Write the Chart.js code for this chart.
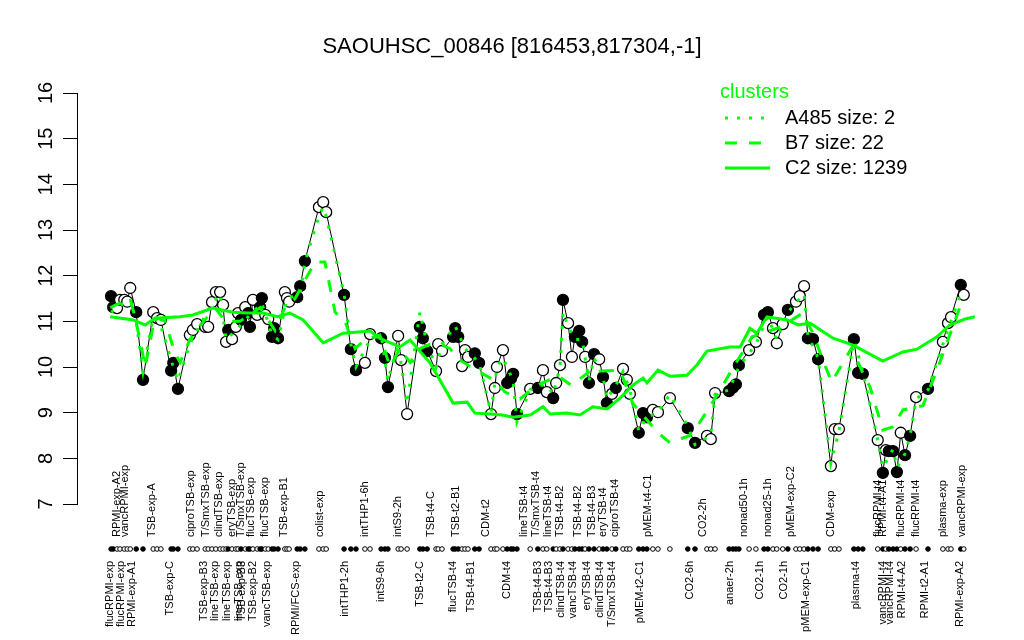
<!DOCTYPE html>
<html><head><meta charset="utf-8">
<script src="https://cdn.jsdelivr.net/npm/chart.js@4/dist/chart.umd.min.js"></script>
<style>html,body{margin:0;padding:0;background:#fff}canvas{display:block}</style>
</head><body>
<canvas id="c" width="1024" height="640"></canvas>
<script>
const titleText = "SAOUHSC_00846 [816453,817304,-1]";
const yTicks = [7, 8, 9, 10, 11, 12, 13, 14, 15, 16];

// sample positions (index units, with gaps between condition groups)
const pointPos = [0.0,0.5,1.4,2.1,3.1,3.8,4.5,5.9,7.5,9.9,10.8,11.7,14.1,14.6,15.7,18.5,19.2,20.2,22.1,22.8,
23.7,24.6,25.6,26.3,27.0,27.5,28.4,29.3,29.8,30.5,31.5,32.2,32.6,33.3,34.3,35.0,35.4,36.2,36.9,37.8,
38.3,39.2,40.8,41.3,41.8,43.7,44.4,45.5,48.8,49.8,50.5,54.7,56.3,57.5,59.6,60.8,63.4,64.3,65.0,67.4,
68.1,69.5,72.5,73.2,74.2,76.3,76.8,77.7,80.3,80.8,81.5,82.4,83.1,83.8,85.4,86.4,89.2,90.1,90.6,92.0,
93.0,93.9,94.4,95.3,98.4,100.2,101.4,102.3,103.8,104.5,105.4,106.1,107.3,108.2,108.9,109.9,110.6,111.3,112.2,113.4,
114.6,115.5,116.4,117.6,118.5,120.2,121.1,121.8,123.9,124.9,125.8,127.2,128.4,131.2,135.4,137.1,139.9,140.8,141.8,145.1,
146.0,146.7,147.4,149.8,151.4,153.3,154.2,155.4,156.3,157.7,158.9,160.8,161.7,162.7,163.6,164.8,166.0,169.0,169.9,170.9,
174.4,175.4,176.5,180.0,181.2,181.9,182.6,183.6,184.5,185.4,186.4,187.6,189.0,191.8,195.3,196.5,197.2,199.5,200.2];
const pointVal = [11.55,11.31,11.29,11.47,11.47,11.43,11.73,11.20,9.72,11.20,11.07,11.03,9.92,10.09,9.52,10.70,10.81,10.94,10.88,10.88,
11.42,11.64,11.64,11.36,10.55,10.81,10.61,10.88,11.18,11.03,11.31,11.18,10.88,11.47,11.14,11.31,11.51,11.14,11.05,10.66,
10.85,10.63,11.64,11.51,11.43,11.53,11.77,12.32,13.50,13.61,13.39,11.58,10.39,9.93,10.09,10.72,10.63,10.20,9.56,10.68,
10.15,8.97,10.88,10.63,10.35,9.91,10.50,10.35,10.66,10.85,10.66,10.02,10.37,10.22,10.30,10.09,8.97,9.54,10.00,10.37,
9.65,9.75,9.85,8.97,9.52,9.54,9.93,9.45,9.32,9.65,10.04,11.47,10.96,10.22,10.66,10.79,10.55,10.22,9.65,10.28,
10.17,9.78,9.21,9.41,9.54,9.96,9.72,9.41,8.56,8.99,8.90,9.06,9.01,9.32,8.66,8.34,8.49,8.42,9.43,9.47,
9.55,9.62,10.04,10.37,10.55,11.14,11.20,10.85,10.52,10.94,11.25,11.43,11.55,11.77,10.63,10.61,10.17,7.83,8.64,8.64,
10.61,9.87,9.85,8.40,7.68,8.18,8.16,8.16,7.70,8.56,8.07,8.49,9.34,9.52,10.55,10.96,11.09,11.80,11.58];
const pointFilled = [1,1,0,0,0,0,0,1,1,0,0,0,1,1,1,0,0,0,0,0,
0,0,0,0,0,1,0,0,0,1,0,1,1,0,0,1,1,0,0,1,
1,1,0,0,0,1,1,1,0,0,0,1,1,1,0,0,1,1,1,0,
0,0,1,1,1,0,0,0,1,1,1,0,0,0,1,1,0,0,0,0,
1,1,1,1,0,1,0,0,1,0,0,1,0,0,1,1,1,0,1,1,
0,1,1,0,1,0,0,0,1,1,1,0,0,0,1,1,0,0,0,1,
1,1,1,0,0,1,1,0,0,0,1,0,0,0,1,1,1,0,0,0,
1,1,1,0,1,0,1,1,1,0,1,1,0,1,0,0,0,1,0];

// cluster profiles
const c2Pos = [-0.2,5.2,8.0,10.3,16.2,19.2,23.9,28.6,31.9,35.7,39.0,42.0,45.1,49.8,54.5,60.8,63.0,67.8,70.2,74.9,
80.3,83.6,85.4,89.0,91.8,94.4,98.4,101.4,103.1,107.0,110.1,113.1,116.4,119.5,122.5,124.9,125.8,128.4,131.2,135.2,
137.6,139.9,145.3,147.7,150.0,151.6,154.0,158.7,161.3,164.1,169.5,174.2,181.2,185.9,189.2,193.9,196.9,200.5,202.8];
const c2Val = [11.10,11.03,10.92,11.07,11.10,11.14,11.29,11.20,11.18,11.18,11.10,11.18,11.03,10.53,10.74,10.79,10.63,10.44,10.59,10.09,
9.21,9.23,8.99,8.97,8.95,8.90,8.95,9.13,8.97,8.99,8.95,9.13,9.08,9.32,9.60,9.76,9.65,9.93,9.80,9.82,
10.05,10.35,10.44,10.44,10.85,10.74,11.10,11.03,10.92,10.96,10.63,10.48,10.13,10.33,10.39,10.66,10.92,11.05,11.10];
const b7Pos = [-0.2,4.5,6.8,8.0,10.3,12.7,15.0,16.2,18.5,20.9,24.4,26.8,30.3,35.0,38.5,40.8,43.2,45.5,47.9,50.2,
52.6,54.9,57.3,59.6,63.1,65.5,67.8,70.2,72.5,74.9,77.2,79.6,81.9,85.4,90.1,92.5,96.0,100.0,105.0,108.0,
112.4,119.5,122.5,128.4,131.2,135.9,137.6,140.6,143.0,146.0,150.5,157.0,162.4,164.8,167.1,169.2,171.8,173.9,176.5,178.2,
181.2,183.6,185.9,190.6,193.9,199.3,200.5];
const b7Val = [11.30,11.50,10.60,10.00,11.10,11.00,10.30,10.10,10.60,10.90,11.30,11.00,11.00,11.30,10.80,11.30,11.50,11.90,12.30,12.30,
11.20,11.00,10.40,10.60,10.70,10.00,10.40,10.10,10.40,10.50,10.50,10.40,10.15,9.95,9.70,9.45,9.30,9.60,9.80,9.60,
9.90,9.93,9.20,8.56,8.34,8.50,8.70,9.13,9.50,9.98,10.66,10.87,11.18,10.74,10.15,9.67,10.09,10.42,9.87,9.56,
8.62,8.69,9.06,9.15,9.93,11.31,11.40];
const a485Pos = [0.0,4.5,5.9,7.5,9.9,11.7,14.6,15.7,18.5,20.2,23.7,25.6,27.0,29.3,32.2,35.4,37.8,39.2,41.3,44.4,
45.5,48.8,49.8,50.5,54.7,56.3,57.5,60.8,63.4,65.0,67.4,69.5,72.5,74.2,76.3,77.7,80.8,83.1,86.4,89.2,
90.6,92.0,94.4,95.3,98.4,100.2,102.3,103.8,105.4,106.1,107.3,108.9,110.6,112.2,113.4,115.5,116.4,118.5,120.2,121.8,
123.9,125.8,128.4,131.2,135.4,137.1,140.8,141.8,145.1,147.4,151.4,154.2,156.3,158.9,162.7,163.6,166.0,169.0,170.9,174.4,
176.5,180.0,181.2,183.6,184.5,186.4,187.6,189.0,191.8,195.3,197.2,199.5,200.2];
const a485Val = [11.20,11.50,11.00,9.90,11.10,10.90,10.00,9.70,10.50,10.80,11.40,11.60,10.60,10.80,11.10,11.40,10.70,10.60,11.50,11.60,
12.30,13.30,13.50,13.30,11.60,10.50,10.00,10.60,10.70,9.70,10.50,9.20,11.20,10.50,10.00,10.50,10.90,10.40,10.10,9.00,
10.00,10.20,9.70,8.80,9.50,9.60,9.60,9.40,10.00,11.20,10.90,10.60,10.60,9.70,10.20,9.80,9.30,9.60,9.90,9.50,
8.60,8.90,9.00,9.40,8.70,8.30,8.50,9.40,9.50,10.00,10.50,11.10,10.60,11.20,11.60,10.70,10.20,7.90,8.60,10.60,
9.90,8.40,7.80,8.20,7.80,8.10,8.50,9.30,9.50,10.50,11.00,11.60,11.50];

// sample labels (top row and bottom row)
const topLabels = ["RPMI-exp-A2","vancRPMI-exp","TSB-exp-A","ciproTSB-exp","T/SmxTSB-exp","clindTSB-exp","eryTSB-exp","T/SmxTSB-exp","flucTSB-exp","flucTSB-exp",
"TSB-exp-B1","colist-exp","intTHP1-6h","intS9-2h","TSB-t4-C","TSB-t2-B1","CDM-t2","lineTSB-t4","T/SmxTSB-t4","lineTSB-t4",
"TSB-t4-B2","TSB-t4-B2","TSB-t4-B3","eryTSB-t4","ciproTSB-t4","pMEM-t4-C1","CO2-2h","nonad50-1h","nonad25-1h","pMEM-exp-C2",
"CDM-exp","flucRPMI-t4","RPMI-t4-A1","flucRPMI-t4","flucRPMI-t4","plasma-exp","vancRPMI-exp"];
const topLabelPos = [1.3,3.3,9.6,18.8,22.3,25.3,28.3,30.5,32.9,36.2,
40.6,49.1,59.6,67.4,75.0,81.0,88.0,97.0,99.8,102.6,
105.4,109.6,112.8,115.5,118.3,126.0,139.0,148.6,154.2,159.6,
169.0,180.0,181.2,185.4,189.0,195.3,199.8];
const bottomLabels = ["flucRPMI-exp","flucRPMI-exp","RPMI-exp-A1","TSB-exp-C","TSB-exp-B3","lineTSB-exp","lineTSB-exp","lineTSB-exp","TSB-exp-B3","TSB-exp-B2",
"vancTSB-exp","RPMI/FCS-exp","intTHP1-2h","intS9-6h","TSB-t2-C","flucTSB-t4","TSB-t4-B1","CDM-t4","TSB-t4-B3","TSB-t4-B3",
"clindTSB-t4","vancTSB-t4","eryTSB-t4","clindTSB-t4","T/SmxTSB-t4","pMEM-t2-C1","CO2-6h","anaer-2h","CO2-1h","CO2-1h",
"pMEM-exp-C1","plasma-t4","vancRPMI-t4","vancRPMI-t4","RPMI-t4-A2","RPMI-t2-A1","RPMI-exp-A2"];
const bottomLabelPos = [-0.3,2.3,4.9,13.8,21.8,24.4,27.2,30.0,30.7,33.3,
36.6,43.5,55.0,63.4,72.5,80.3,84.5,93.0,100.2,102.8,
105.6,108.5,111.7,114.8,117.6,124.2,135.9,145.3,152.3,158.0,
163.1,174.9,181.2,182.9,185.6,191.1,199.3];

const legendTitle = "clusters";
const legendNames = ["A485 size: 2", "B7 size: 22", "C2 size: 1239"];

const GREEN = "#00FF00";
const FONT = "'Liberation Sans', Arial, Helvetica, sans-serif";

const toXY = (xs, ys) => xs.map((x, i) => ({x: x, y: ys[i]}));

const overlay = {
  id: 'overlay',
  afterDraw(chart) {
    const ctx = chart.ctx;
    const xs = chart.scales.x, ys = chart.scales.y;
    const area = chart.chartArea;
    ctx.save();
    // title
    ctx.fillStyle = '#000';
    ctx.font = "22px " + FONT;
    ctx.textAlign = 'center';
    ctx.textBaseline = 'middle';
    ctx.fillText(titleText, 512, 47);
    // y tick labels (rotated)
    ctx.font = "20px " + FONT;
    yTicks.forEach(t => {
      const py = ys.getPixelForValue(t);
      ctx.save();
      ctx.translate(area.left - 31, py);
      ctx.rotate(-Math.PI / 2);
      ctx.textAlign = 'center';
      ctx.textBaseline = 'middle';
      ctx.fillText(String(t), 0, 0);
      ctx.restore();
    });
    // dot row
    const rowY = area.bottom + 45;
    ctx.lineWidth = 1;
    pointPos.forEach((p, i) => {
      const px = xs.getPixelForValue(p);
      ctx.beginPath();
      ctx.arc(px, rowY, 2.3, 0, Math.PI * 2);
      ctx.fillStyle = pointFilled[i] ? '#000' : '#fff';
      ctx.fill();
      ctx.strokeStyle = '#000';
      ctx.stroke();
    });
    // sample labels
    ctx.font = "11px " + FONT;
    ctx.fillStyle = '#000';
    topLabels.forEach((t, i) => {
      const px = xs.getPixelForValue(topLabelPos[i]);
      ctx.save();
      ctx.translate(px, rowY - 12);
      ctx.rotate(-Math.PI / 2);
      ctx.textAlign = 'left';
      ctx.textBaseline = 'middle';
      ctx.fillText(t, 0, 0);
      ctx.restore();
    });
    bottomLabels.forEach((t, i) => {
      const px = xs.getPixelForValue(bottomLabelPos[i]);
      ctx.save();
      ctx.translate(px, rowY + 12);
      ctx.rotate(-Math.PI / 2);
      ctx.textAlign = 'right';
      ctx.textBaseline = 'middle';
      ctx.fillText(t, 0, 0);
      ctx.restore();
    });
    // legend
    ctx.font = "20px " + FONT;
    ctx.textAlign = 'left';
    ctx.textBaseline = 'middle';
    ctx.fillStyle = GREEN;
    ctx.fillText(legendTitle, 720, 92);
    const dashes = [[3, 9], [12, 12], []];
    legendNames.forEach((n, i) => {
      const ly = 118 + i * 25;
      ctx.strokeStyle = GREEN;
      ctx.lineWidth = 3;
      ctx.setLineDash(dashes[i]);
      ctx.beginPath();
      ctx.moveTo(725, ly);
      ctx.lineTo(770, ly);
      ctx.stroke();
      ctx.setLineDash([]);
      ctx.fillStyle = '#000';
      ctx.fillText(n, 785, ly);
    });
    ctx.restore();
  }
};

new Chart(document.getElementById('c'), {
  type: 'scatter',
  data: {
    datasets: [
      {
        label: 'samples',
        data: toXY(pointPos, pointVal),
        showLine: true,
        borderColor: '#000',
        borderWidth: 1,
        pointRadius: 5.5,
        pointBorderWidth: 1.3,
        pointBorderColor: '#000',
        pointBackgroundColor: pointFilled.map(f => f ? '#000' : '#fff'),
        order: 10
      },
      {
        label: 'C2',
        data: toXY(c2Pos, c2Val),
        showLine: true,
        borderColor: GREEN,
        borderWidth: 3,
        pointRadius: 0,
        order: 3
      },
      {
        label: 'B7',
        data: toXY(b7Pos, b7Val),
        showLine: true,
        borderColor: GREEN,
        borderWidth: 3,
        borderDash: [12, 12],
        pointRadius: 0,
        order: 2
      },
      {
        label: 'A485',
        data: toXY(a485Pos, a485Val),
        showLine: true,
        borderColor: GREEN,
        borderWidth: 3,
        borderDash: [3, 9],
        pointRadius: 0,
        order: 1
      }
    ]
  },
  options: {
    responsive: false,
    animation: false,
    devicePixelRatio: 1,
    layout: { padding: { top: 93, bottom: 136, left: 0, right: 27 } },
    plugins: { legend: { display: false }, tooltip: { enabled: false }, title: { display: false } },
    scales: {
      x: { type: 'linear', min: -8, max: 208, display: false },
      y: {
        type: 'linear', min: 7, max: 16,
        afterFit: s => { s.width = 77; },
        ticks: { display: false, stepSize: 1 },
        grid: { drawOnChartArea: false, drawTicks: true, tickLength: 14, color: '#000', lineWidth: 1 },
        border: { display: true, color: '#000', width: 1 }
      }
    }
  },
  plugins: [overlay]
});
</script>
</body></html>
